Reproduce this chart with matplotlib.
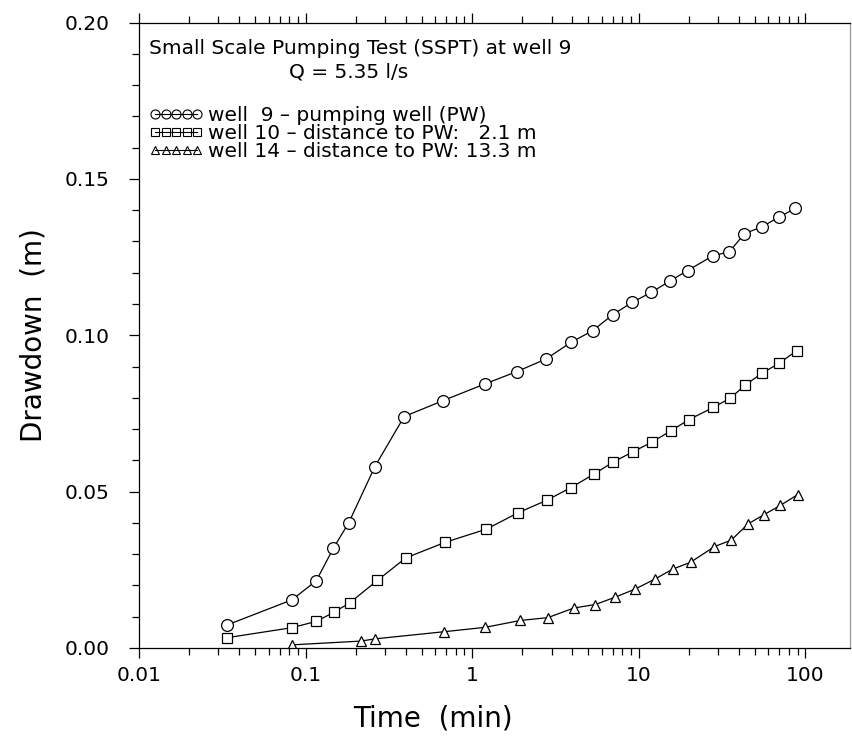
import numpy as np
import matplotlib.pyplot as plt
from matplotlib.lines import Line2D
from matplotlib.ticker import LogLocator, MultipleLocator, FixedFormatter, FixedLocator

# well 9 - pumping well
t9 = [0.034, 0.083, 0.116, 0.147, 0.182, 0.261, 0.391, 0.67, 1.19, 1.86, 2.78, 3.92,
      5.31, 7.0, 9.14, 11.9, 15.5, 19.7, 27.9, 35.1, 43.2, 54.7, 69.2, 87.5]
s9 = [0.0074, 0.0154, 0.0215, 0.0319, 0.0401, 0.058, 0.074, 0.0791, 0.0844, 0.0884, 0.0924, 0.0977,
      0.1015, 0.1066, 0.1105, 0.1137, 0.1174, 0.1207, 0.1254, 0.1267, 0.1325, 0.1346, 0.1377, 0.1406]

# well 10 - 2.1 m from PW
t10 = [0.034, 0.083, 0.116, 0.148, 0.184, 0.27, 0.40, 0.69, 1.22, 1.9, 2.8, 3.93,
       5.43, 7.06, 9.23, 12.0, 15.7, 20.0, 28.1, 35.5, 43.8, 55.2, 70.1, 89.1]
s10 = [0.0033, 0.0065, 0.0085, 0.0114, 0.0144, 0.0216, 0.0288, 0.0338, 0.038, 0.0433, 0.0472, 0.0513,
       0.0557, 0.0595, 0.0627, 0.0658, 0.0695, 0.073, 0.0769, 0.0799, 0.0841, 0.0879, 0.0911, 0.0951]

# well 14 - 13.3 m from PW
t14 = [0.083, 0.215, 0.26, 0.68, 1.2, 1.95, 2.85, 4.1, 5.5, 7.2, 9.5, 12.5,
       16.0, 20.5, 28.5, 36.0, 45.5, 56.5, 71.0, 90.0]
s14 = [0.001, 0.0022, 0.0029, 0.0052, 0.0066, 0.0088, 0.0097, 0.0128, 0.0139, 0.0162, 0.0188, 0.022,
       0.0252, 0.0274, 0.0324, 0.0345, 0.0397, 0.0426, 0.0456, 0.049]

labels = ['well  9 \u2013 pumping well (PW)',
          'well 10 \u2013 distance to PW:   2.1 m',
          'well 14 \u2013 distance to PW: 13.3 m']
x_ticks = [0.01, 0.1, 1, 10, 100]
x_ticklabels = ['0.01', '0.1', '1', '10', '100']

fig = plt.figure(figsize=(8.52, 7.36), dpi=100)
ax = fig.add_axes([0.1631, 0.1196, 0.8346, 0.8498])

ax.plot(t9, s9, color='black', lw=0.9, marker='o', ms=8.5, mfc='white', mec='black', mew=0.9)
ax.plot(t10, s10, color='black', lw=0.9, marker='s', ms=7, mfc='white', mec='black', mew=0.9)
ax.plot(t14, s14, color='black', lw=0.9, marker='^', ms=7.5, mfc='white', mec='black', mew=0.9)

ax.set_xscale('log')
ax.set_xlim(0.01, 186)
ax.set_ylim(0, 0.2)

ax.xaxis.set_major_locator(FixedLocator(x_ticks))
ax.xaxis.set_major_formatter(FixedFormatter(x_ticklabels))
ax.xaxis.set_minor_locator(LogLocator(base=10, subs=np.arange(2, 10)))
ax.yaxis.set_major_locator(MultipleLocator(0.05))
ax.yaxis.set_minor_locator(MultipleLocator(0.01))
ax.yaxis.set_major_formatter(lambda v, p: f'{v:.2f}')

ax.tick_params(which='both', direction='out', top=True, right=False, labelsize=14.5, width=0.9)
ax.tick_params(axis='y', which='major', length=7, pad=14)
ax.tick_params(axis='y', which='minor', length=5)
ax.tick_params(axis='x', which='major', length=7, pad=6)
ax.tick_params(axis='x', which='minor', length=5)

for sp in ax.spines.values():
    sp.set_linewidth(0.9)
ax.spines['right'].set_color('#999999')

ax.set_xlabel('Time  (min)', fontsize=20)
ax.xaxis.set_label_coords(0.4135, -0.112)
ax.xaxis.label.set_va('center')
ax.set_ylabel('Drawdown  (m)', fontsize=20)
ax.yaxis.set_label_coords(-0.148, 0.5)
ax.yaxis.label.set_va('center')

ax.text(0.014, 0.958, 'Small Scale Pumping Test (SSPT) at well 9', transform=ax.transAxes,
        fontsize=14.5, ha='left', va='center')
ax.text(0.295, 0.921, 'Q = 5.35 l/s', transform=ax.transAxes, fontsize=14.5, ha='center', va='center')

handles = [Line2D([], [], color='black', lw=0.8, marker=m, ms=s, mfc='none', mec='black', mew=0.8)
           for m, s in [('o', 6.5), ('s', 5.5), ('^', 6)]]
ax.legend(handles, labels, loc='upper left', bbox_to_anchor=(0.0, 0.882), frameon=False,
          numpoints=5, handlelength=2.7, handletextpad=0.25, labelspacing=-0.05,
          fontsize=14.5, borderaxespad=0.3, borderpad=0.2)

fig.savefig('out.png', dpi=100)
